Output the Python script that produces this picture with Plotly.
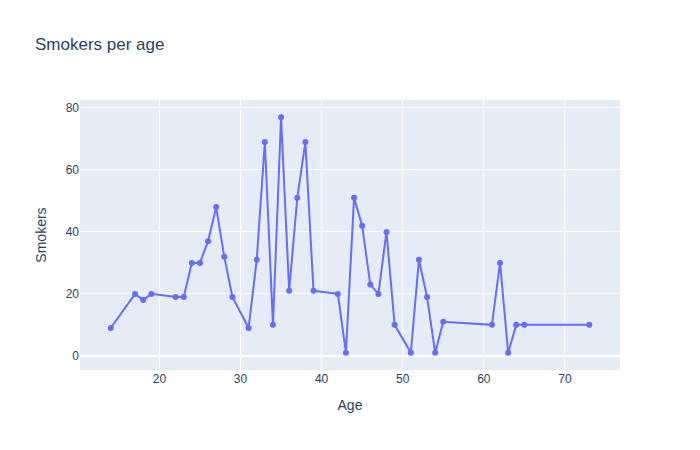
import plotly.graph_objects as go

ages = [14, 17, 18, 19, 22, 23, 24, 25, 26, 27, 28, 29, 31, 32, 33, 34, 35, 36, 37, 38, 39,
        42, 43, 44, 45, 46, 47, 48, 49, 51, 52, 53, 54, 55, 61, 62, 63, 64, 65, 73]
smokers = [9, 20, 18, 20, 19, 19, 30, 30, 37, 48, 32, 19, 9, 31, 69, 10, 77, 21, 51, 69, 21,
           20, 1, 51, 42, 23, 20, 40, 10, 1, 31, 19, 1, 11, 10, 30, 1, 10, 10, 10]

fig = go.Figure(go.Scatter(x=ages, y=smokers, mode="lines+markers"))
fig.update_layout(
    title="Smokers per age",
    xaxis_title="Age",
    yaxis_title="Smokers",
    width=700, height=450,
    font=dict(family="Arial, Liberation Sans, sans-serif"),
)
fig.write_html("out.html")
